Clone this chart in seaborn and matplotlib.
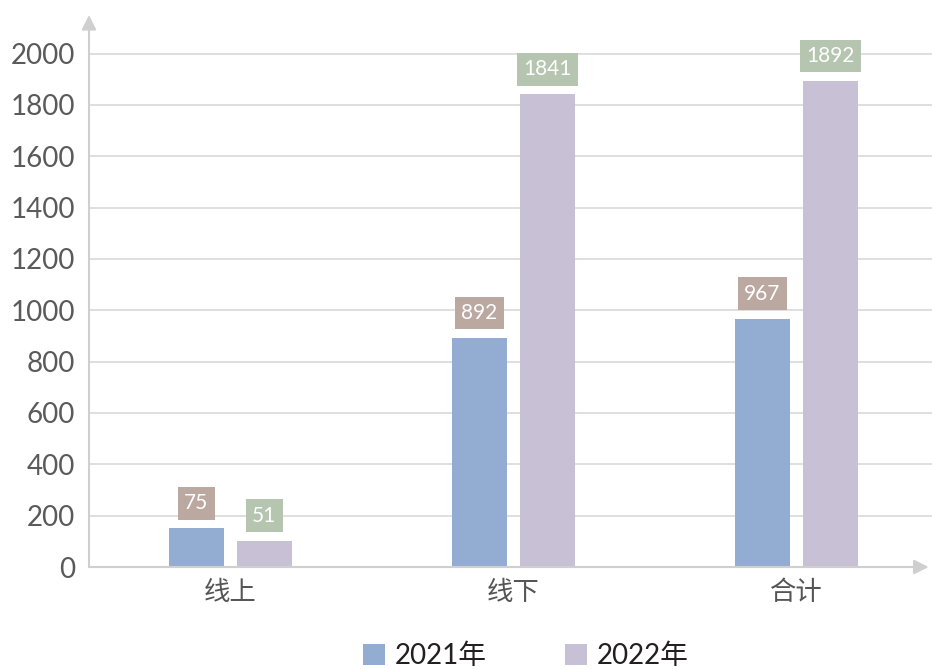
import pandas as pd
import matplotlib
matplotlib.use('Agg')
import matplotlib.pyplot as plt
import seaborn as sns
from matplotlib.patches import Patch

sns.set_style('white')
plt.rcParams['font.family'] = ['Lato', 'Noto Sans CJK SC', 'DejaVu Sans']

# --- datos ---
categorias = ['线上', '线下', '合计']
series = ['2021年', '2022年']
valores_2021 = [150, 892, 967]      # altura de barra tal como se dibuja
valores_2022 = [103, 1841, 1892]
etiquetas_2021 = ['75', '892', '967']   # texto de las etiquetas
etiquetas_2022 = ['51', '1841', '1892']
yticks = [0, 200, 400, 600, 800, 1000, 1200, 1400, 1600, 1800, 2000]

colores_barra = ['#93ACD1', '#C8C0D4']
colores_caja = ['#BBA8A0', '#B5C5B0']

df = pd.DataFrame({
    'categoria': categorias * 2,
    'anio': [series[0]] * 3 + [series[1]] * 3,
    'valor': valores_2021 + valores_2022,
})

fig = plt.figure(figsize=(9.32, 6.69), dpi=100)
ax = fig.add_axes([89 / 932, 102 / 669, 843 / 932, 552 / 669])

sns.barplot(data=df, x='categoria', y='valor', hue='anio', order=categorias,
            hue_order=series, palette=colores_barra, width=0.48, gap=0.19,
            saturation=1, linewidth=0, ax=ax, legend=False)

ax.set_xlim(-0.5, 2.48)
ax.set_ylim(0, 2150)
ax.set_yticks(yticks)
ax.set_xlabel('')
ax.set_ylabel('')
for y in yticks[1:]:
    ax.axhline(y, color='#DCDCDC', lw=1.3, zorder=0)
for s in ax.spines.values():
    s.set_visible(False)
ax.tick_params(axis='both', length=0)
ax.tick_params(axis='y', labelsize=20, labelcolor='#5A5A5A', pad=10)
ax.tick_params(axis='x', labelsize=19, labelcolor='#555555', pad=9)

# ejes con flecha
flecha = dict(arrowstyle='-|>', color='#CFCFCF', lw=1.5, mutation_scale=22,
              shrinkA=0, shrinkB=0)
ax.annotate('', xy=(0, 1.0), xytext=(0, 0), xycoords='axes fraction',
            arrowprops=flecha, annotation_clip=False)
ax.annotate('', xy=(0.996, 0), xytext=(0, 0), xycoords='axes fraction',
            arrowprops=flecha, annotation_clip=False)

# etiquetas de valor en cajas
textos = [etiquetas_2021, etiquetas_2022]
for i, cont in enumerate(ax.containers):
    for barra, txt in zip(cont, textos[i]):
        xc = barra.get_x() + barra.get_width() / 2
        ax.annotate(txt, xy=(xc, barra.get_height()), xytext=(0, 18),
                    textcoords='offset points', ha='center', va='center',
                    fontsize=15, color='white',
                    bbox=dict(boxstyle='square,pad=0.3', fc=colores_caja[i],
                              ec='none'))

handles = [Patch(facecolor=c, edgecolor='none') for c in colores_barra]
fig.legend(handles, series, loc='center', bbox_to_anchor=(526 / 932, 13 / 669),
           ncol=2, frameon=False, fontsize=20, handlelength=0.8,
           handleheight=0.8, handletextpad=0.35, columnspacing=2.8,
           labelcolor='#231F20')

fig.savefig('out.png', dpi=100)
